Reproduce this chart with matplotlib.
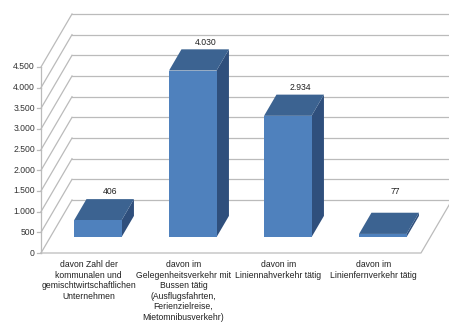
import matplotlib
matplotlib.use("Agg")
import matplotlib.pyplot as plt
from matplotlib.patches import Polygon

plt.rcParams['font.family'] = ['Liberation Sans', 'DejaVu Sans']

# ---- data ----
categories = [
    "davon Zahl der\nkommunalen und\ngemischtwirtschaftlichen\nUnternehmen",
    "davon im\nGelegenheitsverkehr mit\nBussen tätig\n(Ausflugsfahrten,\nFerienzielreise,\nMietomnibusverkehr)",
    "davon im\nLiniennahverkehr tätig",
    "davon im\nLinienfernverkehr tätig",
]
values = [406, 4030, 2934, 77]
value_labels = ["406", "4.030", "2.934", "77"]
y_ticks = [0, 500, 1000, 1500, 2000, 2500, 3000, 3500, 4000, 4500]
y_tick_labels = ["0", "500", "1.000", "1.500", "2.000", "2.500", "3.000", "3.500", "4.000", "4.500"]

# ---- layout (pixel geometry of the oblique projection) ----
W, H, DPI = 449, 323, 100
PX_CAT = 95.0             # pixels per category
PX_VAL = 186.0 / 4500.0   # pixels per value unit
X0 = 41.0                 # pixel x of category origin (front)
Y0 = 253.0                # pixel y of value 0 (front)
DEPTH_PX = (31.0, 53.0)   # depth vector in pixels (right, up)
DC = DEPTH_PX[0] / PX_CAT
DV = DEPTH_PX[1] / PX_VAL

fig = plt.figure(figsize=(W / DPI, H / DPI), dpi=DPI)
ax = fig.add_axes([0, 0, 1, 1])
ax.set_xlim((0 - X0) / PX_CAT, (W - X0) / PX_CAT)
ax.set_ylim((Y0 - H) / PX_VAL, Y0 / PX_VAL)
ax.axis('off')

def proj(c, v, d):
    return (c + d * DC, v + d * DV)

n = len(values)
grid_col = '#BBBBBB'
lw = 0.9

# back wall gridlines and left wall diagonals
for v in y_ticks:
    p1 = proj(0, v, 1); p2 = proj(n + 0.2, v, 1)
    ax.plot([p1[0], p2[0]], [p1[1], p2[1]], color=grid_col, lw=lw, zorder=1)
    q1 = proj(0, v, 0)
    ax.plot([q1[0], p1[0]], [q1[1], p1[1]], color=grid_col, lw=lw, zorder=1)

# floor
f0 = proj(0, 0, 0); f1 = proj(n, 0, 0); f2 = proj(n, 0, 1)
ax.plot([f0[0], f1[0], f2[0]], [f0[1], f1[1], f2[1]], color=grid_col, lw=lw, zorder=1)

# vertical axis + ticks
ax.plot([0, 0], [0, y_ticks[-1]], color=grid_col, lw=lw, zorder=2)
tick_len = 4.0 / PX_CAT
for v, lab in zip(y_ticks, y_tick_labels):
    ax.plot([-tick_len, 0], [v, v], color=grid_col, lw=lw, zorder=2)
    ax.text(-6.0 / PX_CAT, v, lab, ha='right', va='center', fontsize=6.2, color='#333333')

# bars
front_col = '#4F81BD'
top_col = '#3C6391'
side_col = '#2F4F7C'
d0, d1 = 0.3, 0.7
half_w = 0.25
for i, v in enumerate(values):
    c0, c1 = i + 0.5 - half_w, i + 0.5 + half_w
    front = [proj(c0, 0, d0), proj(c1, 0, d0), proj(c1, v, d0), proj(c0, v, d0)]
    top = [proj(c0, v, d0), proj(c1, v, d0), proj(c1, v, d1), proj(c0, v, d1)]
    side = [proj(c1, 0, d0), proj(c1, 0, d1), proj(c1, v, d1), proj(c1, v, d0)]
    ax.add_patch(Polygon(side, closed=True, fc=side_col, ec='none', zorder=3))
    ax.add_patch(Polygon(top, closed=True, fc=top_col, ec='none', zorder=3))
    ax.add_patch(Polygon(front, closed=True, fc=front_col, ec='none', zorder=4))
    # data label
    lx, ly = proj(i + 0.5, max(v, 420), d1)
    ax.annotate(value_labels[i], (lx, ly), xytext=(0, 7 * 72 / DPI), textcoords='offset points',
                ha='center', va='center', fontsize=6.2, color='#202020')

# category labels
for i, lab in enumerate(categories):
    ax.annotate(lab, (i + 0.5, 0), xytext=(0, -7 * 72 / DPI), textcoords='offset points',
                ha='center', va='top', fontsize=6.2, color='#202020', linespacing=1.22,
                multialignment='center')

fig.savefig('out.png', dpi=DPI)
